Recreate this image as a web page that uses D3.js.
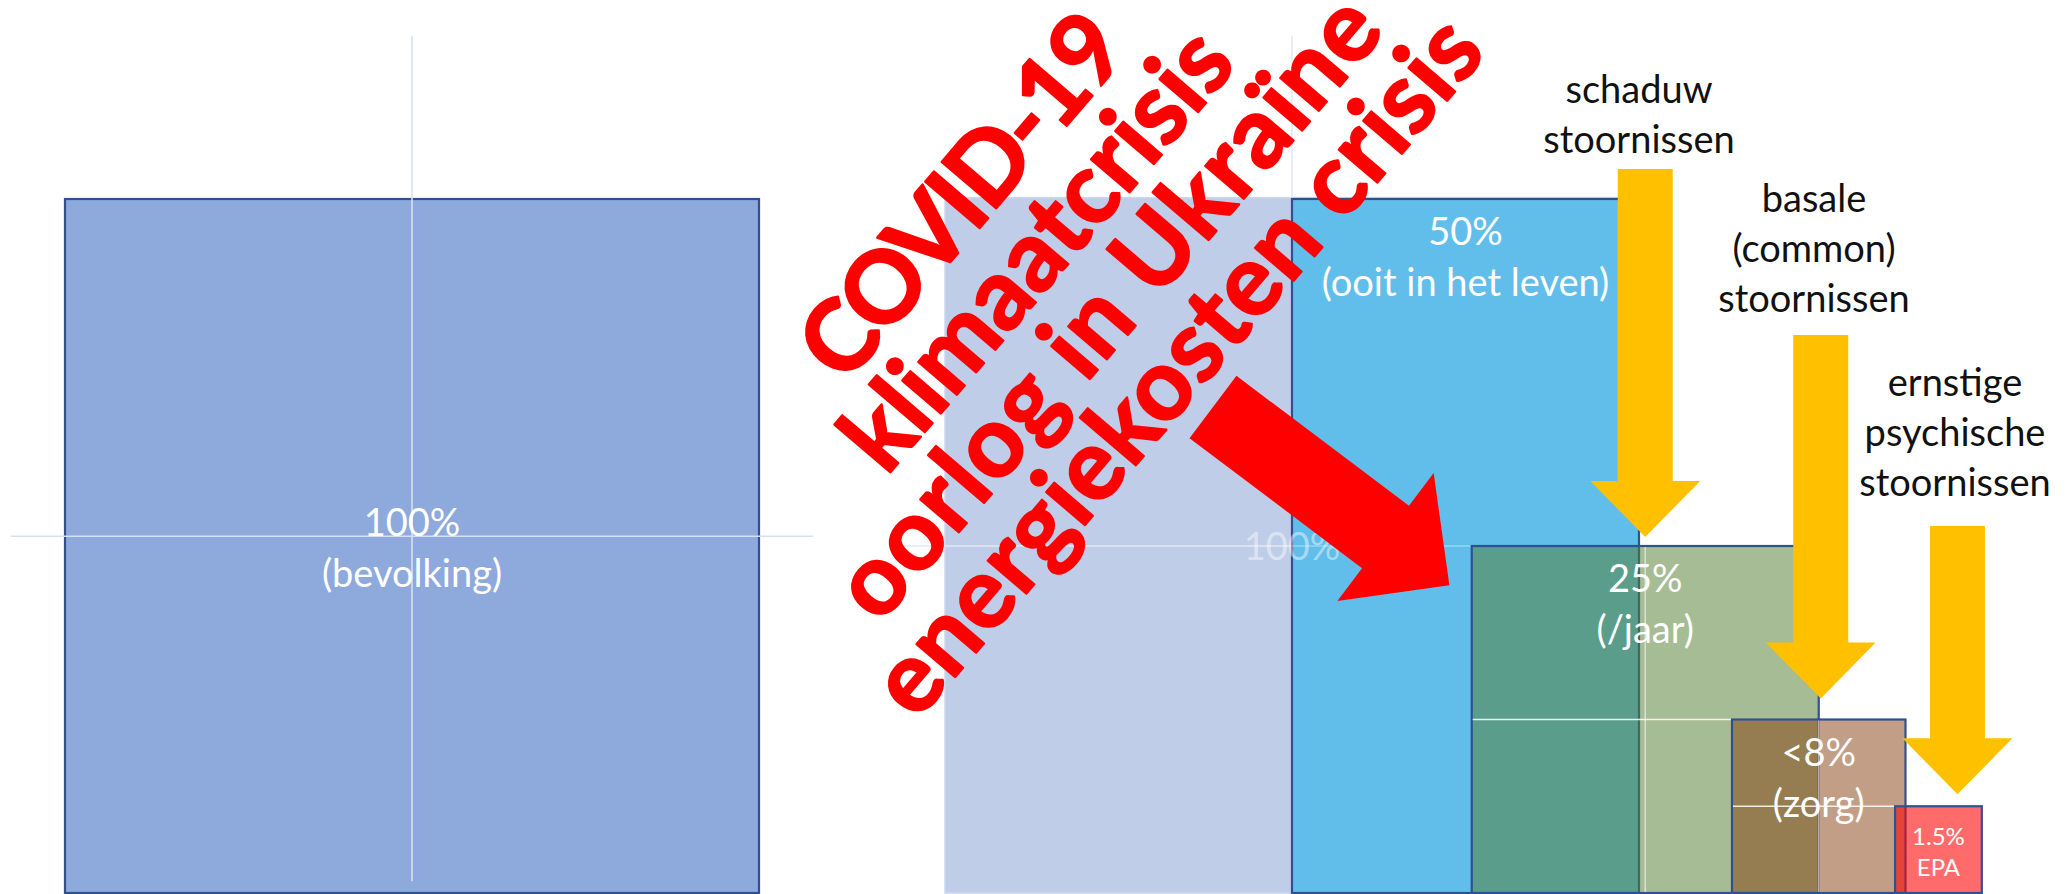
<!DOCTYPE html>
<html>
<head>
<meta charset="utf-8">
<script src="https://cdn.jsdelivr.net/npm/d3@7"></script>
<style>
  html, body { margin: 0; padding: 0; background: #fff; overflow: hidden; }
  svg { display: block; }
</style>
</head>
<body>
<div id="chart"></div>
<script>
// Values
const blockLabels = ["100%", "50%", "25%", "<8%", "1.5%"]
const blockNotes = ["(bevolking)", "(ooit in het leven)", "(/jaar)", "(zorg)", "EPA"]
// share of the population each block stands for, as drawn (area of the block)
const blockShare = [1, 0.5, 0.25, 0.0625, 0.015625]

const arrowLabels = [
  ["schaduw", "stoornissen"],
  ["basale", "(common)", "stoornissen"],
  ["ernstige", "psychische", "stoornissen"]
]
const arrowTargets = [2, 3, 4]

const crisisLines = ["COVID-19", "klimaatcrisis", "oorlog in Ukraïne", "energiekosten crisis"]

// Sizes
const width = 2069
const height = 894
const font = "Lato, 'Open Sans', sans-serif"

const svg = d3
  .select("#chart")
  .append("svg")
  .attr("width", width)
  .attr("height", height)

// one unit = side of the 100% square
const xscale = d3.scaleLinear().domain([0, 1]).range([65, 759])
const yscale = d3.scaleLinear().domain([0, 1]).range([893, 199])
const side = d3.scaleLinear().domain([0, 1]).range([0, 694])

// layout: left edge of each block (square units) and its look
const blockX = [0, 1.768, 2.027, 2.402, 2.637]
const ghostX = 1.268
const fills = ["#8EA9DB", "#61BEEB", "#537F32", "#853D0D", "#FF0000"]
const alphas = [1, 1, 0.52, 0.5, 0.58]
const border = "#2F528F"

const blocks = blockShare.map((s, i) => {
  const w = s >= 0.5 ? s : Math.sqrt(s)
  const h = s >= 0.5 ? 1 : Math.sqrt(s)
  return {
    i, label: blockLabels[i], note: blockNotes[i],
    x: xscale(blockX[i]), y: yscale(h), w: side(w), h: side(h)
  }
})

function line(g, x1, y1, x2, y2, color, op) {
  g.append("line")
    .attr("x1", x1).attr("y1", y1).attr("x2", x2).attr("y2", y2)
    .attr("stroke", color).attr("stroke-width", 1.6).attr("stroke-opacity", op)
}

function labels(g, d) {
  const small = d.i === 4
  const fs = small ? 24 : 38
  const cx = d.x + d.w / 2
  let y1
  if (d.i === 0) y1 = d.y + d.h / 2 - 10
  else y1 = d.y + (small ? 39 : 46)
  const step = small ? 31 : 51
  ;[d.label, d.note].forEach((t, k) => {
    g.append("text")
      .attr("x", cx).attr("y", y1 + k * step)
      .attr("text-anchor", "middle")
      .attr("fill", "#fff")
      .style("font-family", font).style("font-size", fs + "px")
      .text(t)
  })
}

function drawBlock(d) {
  const g = svg.append("g")
  g.append("rect")
    .attr("x", d.x).attr("y", d.y).attr("width", d.w).attr("height", d.h)
    .attr("fill", fills[d.i]).attr("fill-opacity", alphas[d.i])
    .attr("stroke", border).attr("stroke-width", 2.2)
  return g
}

// ---- 100% square with its cross
const b0 = blocks[0]
const g0 = drawBlock(b0)
line(g0, b0.x + b0.w / 2, yscale(1.235), b0.x + b0.w / 2, yscale(0.017), "#D6E0F2", 1)
line(g0, xscale(-0.078), yscale(0.514), xscale(1.078), yscale(0.514), "#D6E0F2", 1)
labels(g0, b0)

// ---- faded copy of the 100% square behind the 50% block
const gx = xscale(ghostX)
const ghost = svg.append("g")
ghost.append("rect")
  .attr("x", gx).attr("y", yscale(1.002)).attr("width", side(1)).attr("height", side(1.002))
  .attr("fill", "#BFCDE9").attr("stroke", "#CCD7EE").attr("stroke-width", 1.5)
line(ghost, gx + side(0.5), yscale(1.235), gx + side(0.5), yscale(1.002), "#E3E9F5", 1)
line(ghost, gx - side(0.078), yscale(0.5), gx + side(1.078), yscale(0.5), "#E3E9F5", 1)

// ---- 50% block
const b1 = blocks[1]
const g1 = drawBlock(b1)
labels(g1, b1)
line(g1, b1.x, yscale(0.5), gx + side(1.078), yscale(0.5), "#ffffff", 0.35)
g1.append("text")
  .attr("x", gx + side(0.5)).attr("y", yscale(0.5) + 14)
  .attr("text-anchor", "middle").attr("fill", "#fff").attr("fill-opacity", 0.45)
  .style("font-family", font).style("font-size", "38px")
  .text(blockLabels[0])

// ---- 25%, <8% and 1.5% blocks with their crosses
blocks.slice(2).forEach((d) => {
  const g = drawBlock(d)
  if (d.i < 4) {
    line(g, d.x + 1, d.y + d.h / 2, d.x + d.w - 2, d.y + d.h / 2, "#ffffff", 0.85)
    line(g, d.x + d.w / 2, d.y + 1, d.x + d.w / 2, d.y + d.h - 1, "#ffffff", 0.55)
  }
  labels(g, d)
})

// ---- yellow arrows with their captions
const arrowLayout = [
  { dx: 0, gap: 9, top: 169, labelX: 1639, labelY: 103 },
  { dx: 2, gap: 21, top: 335, labelX: 1814, labelY: 212 },
  { dx: 19, gap: 12, top: 526, labelX: 1955, labelY: 396 }
]
arrowTargets.forEach((t, k) => {
  const d = blocks[t]
  const L = arrowLayout[k]
  const cx = d.x + d.w / 2 + L.dx
  const tip = d.y - L.gap
  const pts = [
    [cx - 27.5, L.top], [cx + 27.5, L.top], [cx + 27.5, tip - 56], [cx + 55, tip - 56],
    [cx, tip], [cx - 55, tip - 56], [cx - 27.5, tip - 56]
  ]
  svg.append("polygon").attr("points", pts.map((p) => p.join(",")).join(" ")).attr("fill", "#FFC000")
  arrowLabels[k].forEach((t2, j) => {
    svg.append("text")
      .attr("x", L.labelX).attr("y", L.labelY + j * 50)
      .attr("text-anchor", "middle").attr("fill", "#111")
      .style("font-family", font).style("font-size", "38px")
      .text(t2)
  })
})

// ---- red crisis text, tilted
// centre of each line along the text direction (rotated frame)
const crisisMid = [476, 484, 486, 486]
const crisis = svg.append("g").attr("transform", "rotate(-49.5)")
const crisisText = crisis.selectAll("text")
  .data(crisisLines)
  .join("text")
  .attr("x", (d, i) => crisisMid[i])
  .attr("y", (d, i) => 893 + i * 91)
  .attr("text-anchor", "middle")
  .attr("fill", "#FF0000")
  .attr("stroke", "#FF0000")
  .attr("stroke-width", 2.2)
  .attr("stroke-linejoin", "round")
  .style("font-family", font).style("font-weight", 700).style("font-size", "100px")
  .text((d) => d)
// fit the size, then each line to its length on the slide
const targetLen = [442, 542, 781, 880]
let measured = 0
crisisText.each(function () { measured += this.getComputedTextLength() })
const fitSize = 100 * d3.sum(targetLen) / measured
crisisText.style("font-size", fitSize + "px")
  .attr("textLength", (d, i) => targetLen[i])
  .attr("lengthAdjust", "spacing")

// ---- red arrow
svg.append("polygon")
  .attr("transform", "translate(1213,407) rotate(37)")
  .attr("points", "0,-39 216,-39 216,-80 296,0 216,80 216,39 0,39")
  .attr("fill", "#FF0000")
</script>
</body>
</html>
